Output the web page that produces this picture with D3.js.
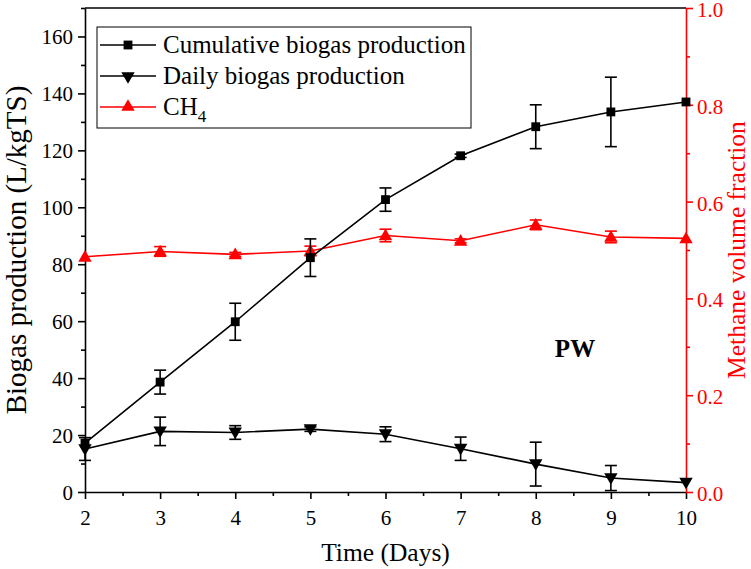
<!DOCTYPE html>
<html>
<head>
<meta charset="utf-8">
<script src="https://cdn.jsdelivr.net/npm/d3@7"></script>
<style>
	body { margin: 0; background: #fff; }
	svg text { font-family: "Liberation Serif", "Times New Roman", serif; }
</style>
</head>
<body>
<div id="chart"></div>
<script>
"use strict";

//  Data
const days = [2, 3, 4, 5, 6, 7, 8, 9, 10];
const cumulative = [17.2, 38.6, 59.8, 82.3, 102.7, 118.1, 128.3, 133.5, 137.0];
const cumulativeErr = [0, 4.2, 6.5, 6.6, 4.1, 0.6, 7.7, 12.2, 0];
const daily = [15.1, 21.3, 20.9, 22.1, 20.3, 15.2, 9.8, 4.9, 3.3];
const dailyErr = [4, 5.0, 2.4, 0.8, 2.6, 4.1, 7.7, 4.4, 0];
const methane = [0.486, 0.497, 0.491, 0.498, 0.530, 0.519, 0.552, 0.527, 0.524];
const methaneErr = [0, 0.010, 0.004, 0.010, 0.013, 0.004, 0.010, 0.012, 0];
const leftTicks = [0, 20, 40, 60, 80, 100, 120, 140, 160];
const rightTicks = [0.0, 0.2, 0.4, 0.6, 0.8, 1.0];
const legendLabels = ['Cumulative biogas production', 'Daily biogas production', 'CH4'];

const width = 751, height = 569;
const margin = { left: 85, right: 65, top: 8, bottom: 77 };
const red = '#ff0000';
const serif = '"Liberation Serif", "Times New Roman", serif';
const tickFont = '21px', titleFont = '25.5px';

let svg = d3.select('#chart').append('svg')
	.attr('width', width)
	.attr('height', height)
	.style('font-family', serif);

let x = d3.scaleLinear().domain([2, 10]).range([margin.left, width - margin.right]);
let yLeft = d3.scaleLinear().domain([0, 170]).range([height - margin.bottom, margin.top]);
let yRight = d3.scaleLinear().domain([0, 1]).range([height - margin.bottom, margin.top]);

//  Axes
let xAxis = svg.append('g')
	.attr('transform', `translate(0, ${height - margin.bottom})`)
	.call(d3.axisBottom(x).tickValues(d3.range(2, 10.01, 0.5)).tickSize(0).tickFormat(''));
xAxis.selectAll('.tick line')
	.attr('y2', d => Number.isInteger(d) ? 7 : 4);
xAxis.selectAll('.tick')
	.filter(d => Number.isInteger(d))
	.append('text')
		.attr('y', 33)
		.attr('fill', '#000')
		.attr('text-anchor', 'middle')
		.style('font-family', serif)
		.style('font-size', tickFont)
		.text(d => d);

let leftAxis = svg.append('g')
	.attr('transform', `translate(${margin.left}, 0)`)
	.call(d3.axisLeft(yLeft).tickValues(d3.range(0, 171, 10)).tickSize(0).tickFormat(''));
leftAxis.selectAll('.tick line')
	.attr('x2', d => d % 20 === 0 ? -7 : -4);
leftAxis.selectAll('.tick')
	.filter(d => leftTicks.includes(d))
	.append('text')
		.attr('x', -12)
		.attr('dy', '0.35em')
		.attr('fill', '#000')
		.attr('text-anchor', 'end')
		.style('font-family', serif)
		.style('font-size', tickFont)
		.text(d => d);

let rightAxis = svg.append('g')
	.attr('transform', `translate(${width - margin.right}, 0)`)
	.call(d3.axisRight(yRight).tickValues(d3.range(0, 11).map(i => i / 10)).tickSize(0).tickFormat(''));
rightAxis.selectAll('.tick line')
	.attr('x2', (d, i) => i % 2 === 0 ? 7 : 4)
	.attr('stroke', red);
rightAxis.selectAll('.tick')
	.filter((d, i) => i % 2 === 0)
	.append('text')
		.attr('x', 11)
		.attr('dy', '0.4em')
		.attr('fill', red)
		.attr('text-anchor', 'start')
		.style('font-family', serif)
		.style('font-size', tickFont)
		.text(d => d.toFixed(1));

[xAxis, leftAxis].forEach(axis => axis.selectAll('path, line').attr('stroke-width', 1.6));
rightAxis.select('path').attr('stroke', red).attr('stroke-width', 1.6);
rightAxis.selectAll('line').attr('stroke-width', 1.6);

//  top frame line
svg.append('line')
	.attr('x1', margin.left).attr('x2', width - margin.right)
	.attr('y1', margin.top).attr('y2', margin.top)
	.attr('stroke', '#000').attr('stroke-width', 1.6);

//  Axis titles
svg.append('text')
	.attr('x', (margin.left + width - margin.right) / 2)
	.attr('y', 561)
	.attr('text-anchor', 'middle')
	.style('font-size', titleFont)
	.text('Time (Days)');

svg.append('text')
	.attr('transform', `translate(26, ${(margin.top + height - margin.bottom) / 2}) rotate(-90)`)
	.attr('text-anchor', 'middle')
	.style('font-size', '29px')
	.text('Biogas production (L/kgTS)');

svg.append('text')
	.attr('transform', `translate(745, ${(margin.top + height - margin.bottom) / 2}) rotate(-90)`)
	.attr('text-anchor', 'middle')
	.attr('fill', red)
	.style('font-size', titleFont)
	.text('Methane volume fraction');

//  Series
function symbolPath(type)
{
	if (type === 'square') return d3.symbol().type(d3.symbolSquare).size(78)();
	return d3.symbol().type(d3.symbolTriangle).size(78)();
}

const series = [
	{ values: cumulative, errors: cumulativeErr, scale: yLeft, color: '#000', symbol: 'square', rotate: 0 },
	{ values: daily, errors: dailyErr, scale: yLeft, color: '#000', symbol: 'triangle', rotate: 180 },
	{ values: methane, errors: methaneErr, scale: yRight, color: red, symbol: 'triangle', rotate: 0 },
];

// draw CH4 first so black series sit on top
[series[2], series[0], series[1]].forEach(s =>
{
	let points = days.map((d, i) => ({ day: d, value: s.values[i], err: s.errors[i] }));
	let g = svg.append('g');

	g.append('path')
		.datum(points)
		.attr('fill', 'none')
		.attr('stroke', s.color)
		.attr('stroke-width', 1.6)
		.attr('d', d3.line().x(p => x(p.day)).y(p => s.scale(p.value)));

	let bars = g.selectAll('.err')
		.data(points.filter(p => p.err > 0))
		.join('g')
		.attr('stroke', s.color)
		.attr('stroke-width', 1.6);
	bars.append('line')
		.attr('x1', p => x(p.day)).attr('x2', p => x(p.day))
		.attr('y1', p => s.scale(p.value - p.err)).attr('y2', p => s.scale(p.value + p.err));
	[-1, 1].forEach(sign =>
		bars.append('line')
			.attr('x1', p => x(p.day) - 6).attr('x2', p => x(p.day) + 6)
			.attr('y1', p => s.scale(p.value + sign * p.err)).attr('y2', p => s.scale(p.value + sign * p.err)));

	g.selectAll('.mark')
		.data(points)
		.join('path')
		.attr('d', symbolPath(s.symbol))
		.attr('fill', s.color)
		.attr('transform', p => `translate(${x(p.day)}, ${s.scale(p.value) + (s.symbol === 'triangle' ? (s.rotate ? -1 : 1) : 0)}) rotate(${s.rotate})`);
});

//  Legend
let legend = svg.append('g');
legend.append('rect')
	.attr('x', 97).attr('y', 27)
	.attr('width', 374).attr('height', 101)
	.attr('fill', '#fff')
	.attr('stroke', '#000')
	.attr('stroke-width', 1);

series.forEach((s, i) =>
{
	let yPos = 45 + i * 31;
	legend.append('line')
		.attr('x1', 100).attr('x2', 156)
		.attr('y1', yPos).attr('y2', yPos)
		.attr('stroke', s.color).attr('stroke-width', 1.6);
	legend.append('path')
		.attr('d', symbolPath(s.symbol))
		.attr('fill', s.color)
		.attr('transform', `translate(128, ${yPos}) rotate(${s.rotate})`);
	let label = legend.append('text')
		.attr('x', 163)
		.attr('y', yPos + 8)
		.style('font-size', '25px');
	if (legendLabels[i] === 'CH4')
	{
		label.append('tspan').text('CH');
		label.append('tspan').attr('dy', 7).style('font-size', '17px').text('4');
	}
	else
		label.text(legendLabels[i]);
});

//  Sample label
svg.append('text')
	.attr('x', 575)
	.attr('y', 357)
	.attr('text-anchor', 'middle')
	.style('font-size', '25px')
	.style('font-weight', 'bold')
	.text('PW');
</script>
</body>
</html>
